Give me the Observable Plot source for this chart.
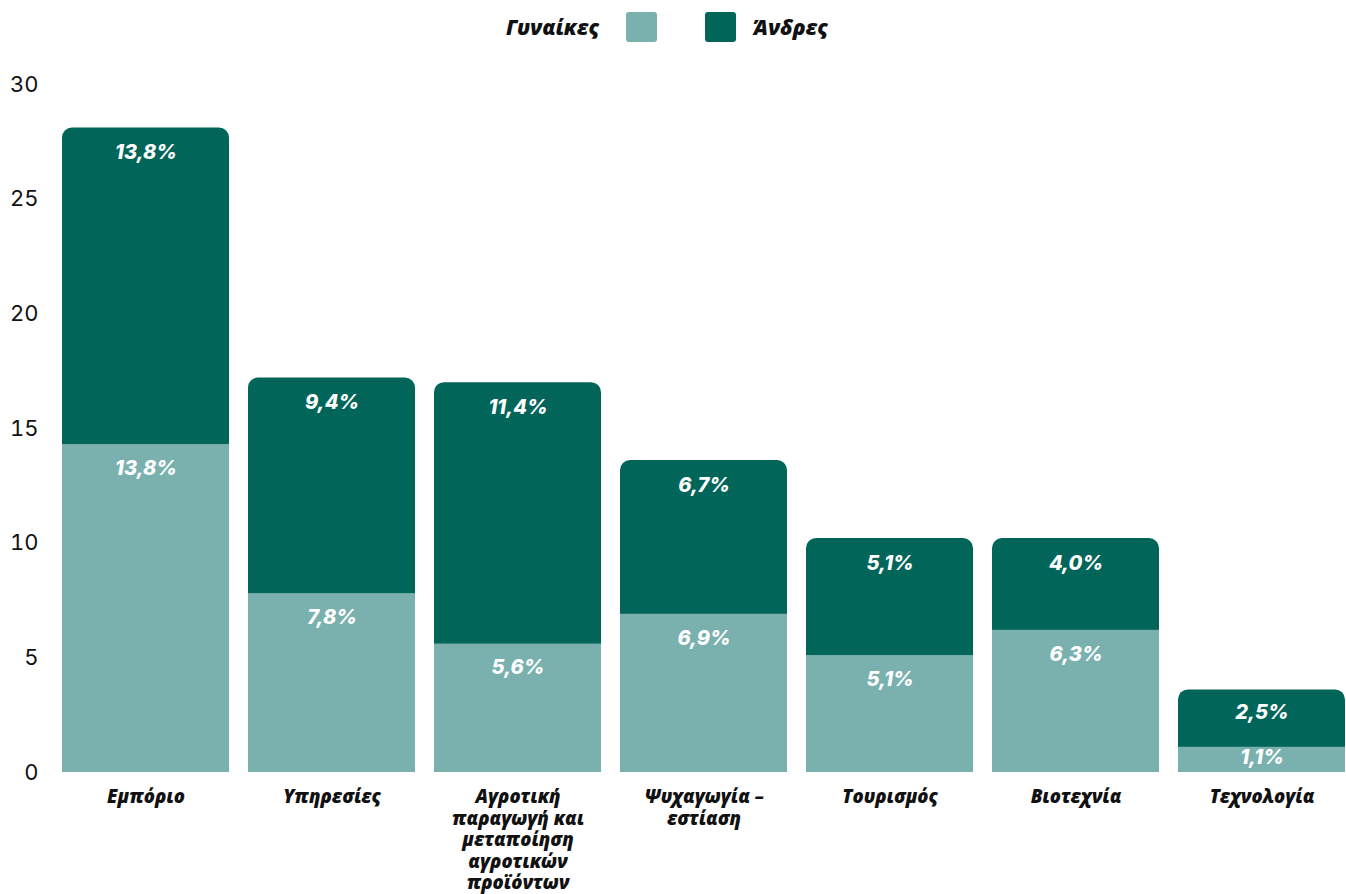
<!DOCTYPE html>
<html>
<head>
<meta charset="utf-8">
<script src="https://cdn.jsdelivr.net/npm/d3@7"></script>
<script src="https://cdn.jsdelivr.net/npm/@observablehq/plot@0.6"></script>
<style>
  html, body { margin: 0; padding: 0; background: #fff; }
  #wrap { width: 1346px; position: relative; }
  #legend { position: relative; height: 55px; width: 1346px; font-family: "Open Sans", sans-serif; font-weight: 800; font-style: italic; font-size: 21px; color: #111; }
  #legend .lab { position: absolute; top: 12px; line-height: 30px; }
  #legend .sw { position: absolute; top: 12px; width: 31px; height: 30px; border-radius: 3px; }
  svg { display: block; }
</style>
</head>
<body>
<div id="wrap">
  <div id="legend"></div>
  <div id="chart"></div>
</div>
<script>
const categories = ["Εμπόριο", "Υπηρεσίες", "Αγροτική\nπαραγωγή και\nμεταποίηση\nαγροτικών\nπροϊόντων", "Ψυχαγωγία –\nεστίαση", "Τουρισμός", "Βιοτεχνία", "Τεχνολογία"];
const women = [14.3, 7.8, 5.6, 6.9, 5.1, 6.2, 1.1];
const men = [13.8, 9.4, 11.4, 6.7, 5.1, 4.0, 2.5];
const womenLabels = ["13,8%", "7,8%", "5,6%", "6,9%", "5,1%", "6,3%", "1,1%"];
const menLabels = ["13,8%", "9,4%", "11,4%", "6,7%", "5,1%", "4,0%", "2,5%"];
const seriesNames = ["Γυναίκες", "Άνδρες"];
const yTicks = [0, 5, 10, 15, 20, 25, 30];

const lightColor = "#7ab1af";
const darkColor = "#026559";

// legend
const legend = document.getElementById("legend");
legend.innerHTML = `
  <div class="lab" style="right:${1346-599}px">${seriesNames[0]}</div>
  <div class="sw" style="left:626px;background:${lightColor}"></div>
  <div class="sw" style="left:705px;background:${darkColor}"></div>
  <div class="lab" style="left:753px">${seriesNames[1]}</div>`;

const data = categories.map((c, i) => ({
  cat: c, women: women[i], men: men[i], total: women[i] + men[i],
  wl: womenLabels[i], ml: menLabels[i]
}));

const H = 839, MT = 29, MB = 122;
const k = (H - MT - MB) / 30; // px per unit
const menLabelY = d => d.total - Math.min(25 / k, d.men * 0.4);
const womenLabelY = d => d.women - Math.min(24 / k, d.women * 0.42);

const chart = Plot.plot({
  width: 1346,
  height: H,
  marginTop: MT,
  marginBottom: MB,
  marginLeft: 61,
  marginRight: 0,
  x: { domain: categories, paddingInner: 0.1, paddingOuter: 0, label: null },
  y: { domain: [0, 30], label: null },
  style: { background: "#fff" },
  marks: [
    Plot.barY(data, { x: "cat", y1: 0, y2: "total", fill: darkColor, rx: 10, ry: 10 }),
    Plot.barY(data, { x: "cat", y1: 0, y2: "women", fill: lightColor }),
    Plot.text(data, { x: "cat", y: menLabelY, text: "ml", fill: "#fff", fontSize: 20, fontWeight: 800, fontStyle: "italic", fontFamily: "Inter, sans-serif", lineAnchor: "middle" }),
    Plot.text(data, { x: "cat", y: womenLabelY, text: "wl", fill: "#fff", fontSize: 20, fontWeight: 800, fontStyle: "italic", fontFamily: "Inter, sans-serif", lineAnchor: "middle" }),
    Plot.axisY({ ticks: yTicks, tickSize: 0, tickPadding: 23, fontSize: 22, fontFamily: "Inter, sans-serif", fill: "#111", label: null }),
    Plot.axisX({ tickSize: 0, tickPadding: 15, fontSize: 18.5, fontWeight: 800, fontStyle: "italic", fontFamily: "Open Sans, sans-serif", fill: "#111", lineHeight: 1.17, lineAnchor: "top", label: null })
  ]
});
document.getElementById("chart").appendChild(chart);
</script>
</body>
</html>
